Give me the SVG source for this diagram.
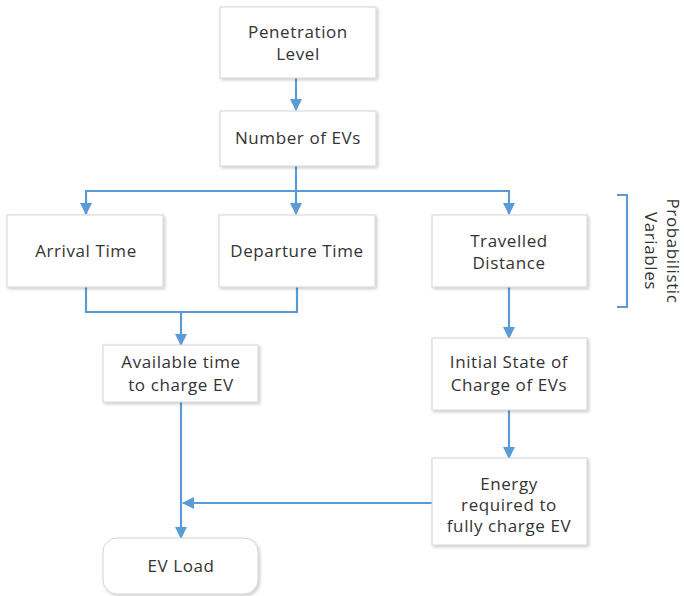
<svg xmlns="http://www.w3.org/2000/svg" width="684" height="596" viewBox="0 0 684 596">
<defs>
<filter id="sh" x="-10%" y="-10%" width="130%" height="130%">
<feDropShadow dx="1.5" dy="1.5" stdDeviation="1.5" flood-color="#000" flood-opacity="0.22"/>
</filter>
<marker id="ah" viewBox="0 0 12 12" refX="11" refY="6" markerWidth="12" markerHeight="12" markerUnits="userSpaceOnUse" orient="auto">
<path d="M0,0 L12,6 L0,12 z" fill="#5b9bd5"/>
</marker>
</defs>
<style>
.box{fill:#fff;stroke:#d4d4d4;stroke-width:1;filter:url(#sh)}
.t{font-family:"Open Sans","DejaVu Sans",sans-serif;font-size:17px;letter-spacing:0.6px;fill:#333;text-anchor:middle}
.c{fill:none;stroke:#5b9bd5;stroke-width:2.2}
</style>
<rect width="684" height="596" fill="#fff"/>
<g id="connectors">
<line class="c" x1="296" y1="78" x2="296" y2="110" marker-end="url(#ah)"/>
<line class="c" x1="296" y1="166" x2="296" y2="214" marker-end="url(#ah)"/>
<polyline class="c" points="86,214 86,191 509,191 509,214" marker-end="url(#ah)"/>
<line class="c" x1="86" y1="200" x2="86" y2="214" marker-end="url(#ah)"/>
<polyline class="c" points="86,287 86,312 297,312 297,287"/>
<line class="c" x1="181" y1="312" x2="181" y2="345" marker-end="url(#ah)"/>
<line class="c" x1="509" y1="287" x2="509" y2="338" marker-end="url(#ah)"/>
<line class="c" x1="509" y1="410" x2="509" y2="458" marker-end="url(#ah)"/>
<line class="c" x1="181" y1="402" x2="181" y2="538" marker-end="url(#ah)"/>
<line class="c" x1="432" y1="503" x2="183" y2="503" marker-end="url(#ah)"/>
<polyline class="c" points="617,195 627,195 627,307 617,307" stroke-width="1.6"/>
</g>
<g id="penetration"><rect class="box" x="220" y="7" width="156" height="71"/><text class="t" x="298" y="38">Penetration</text><text class="t" x="298" y="60">Level</text></g>
<g id="number"><rect class="box" x="220" y="111" width="156" height="55"/><text class="t" x="298" y="144">Number of EVs</text></g>
<g id="arrival"><rect class="box" x="7" y="215" width="156" height="72"/><text class="t" x="86" y="257">Arrival Time</text></g>
<g id="departure"><rect class="box" x="219" y="215" width="156" height="72"/><text class="t" x="297" y="257">Departure Time</text></g>
<g id="travelled"><rect class="box" x="432" y="215" width="155" height="72"/><text class="t" x="509" y="247">Travelled</text><text class="t" x="509" y="269">Distance</text></g>
<g id="available"><rect class="box" x="103" y="345" width="155" height="57"/><text class="t" x="181" y="368">Available time</text><text class="t" x="181" y="391">to charge EV</text></g>
<g id="initial"><rect class="box" x="432" y="338" width="155" height="72"/><text class="t" x="509" y="368">Initial State of</text><text class="t" x="509" y="391">Charge of EVs</text></g>
<g id="energy"><rect class="box" x="432" y="458" width="155" height="87"/><text class="t" x="509" y="490">Energy</text><text class="t" x="509" y="511">required to</text><text class="t" x="509" y="532">fully charge EV</text></g>
<g id="evload"><rect class="box" x="103" y="538" width="155" height="56" rx="14"/><text class="t" x="181" y="572">EV Load</text></g>
<g id="probabilistic">
<text class="t" transform="translate(667,251) rotate(90)">Probabilistic</text>
<text class="t" transform="translate(645,251) rotate(90)">Variables</text>
</g>
</svg>
